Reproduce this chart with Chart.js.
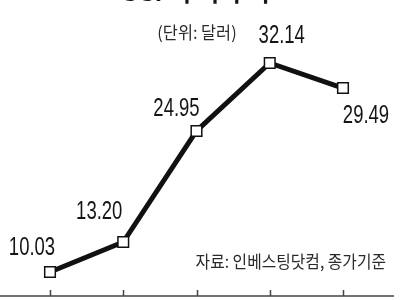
<!DOCTYPE html>
<html>
<head>
<meta charset="utf-8">
<script src="https://cdn.jsdelivr.net/npm/chart.js@4"></script>
<style>
  html, body { margin: 0; padding: 0; background: #fff; }
  #wrap { width: 400px; height: 300px; }
</style>
</head>
<body>
<div id="wrap"><canvas id="priceChart" width="400" height="300"></canvas></div>
<script>
// 데이터
const periods = ['1', '2', '3', '4', '5'];
const prices = [10.03, 13.20, 24.95, 32.14, 29.49];
const priceLabels = ['10.03', '13.20', '24.95', '32.14', '29.49'];

// 라벨 위치 (점 기준 오프셋)
const labelOffsets = [[-18, -24], [-24, -30], [-20, -22], [12, -27], [23, 28]];

const numFont = '25px "Liberation Sans", Arial, sans-serif';
const krFont = '17px "Noto Sans CJK KR", sans-serif';

// 가로로 눌린 글자 그리기
function drawNarrow(ctx, text, x, y, sx) {
    ctx.save();
    ctx.translate(x, y);
    ctx.scale(sx, 1);
    ctx.fillText(text, 0, 0);
    ctx.restore();
}

// 축선, 라벨, 제목을 그리는 플러그인
const decorPlugin = {
    id: 'decor',
    afterDatasetsDraw(chart) {
        const ctx = chart.ctx;
        const x = chart.scales.x;
        const meta = chart.getDatasetMeta(0);
        ctx.save();

        // 아래쪽 축선과 눈금
        ctx.strokeStyle = '#444';
        ctx.lineWidth = 1.5;
        ctx.beginPath();
        ctx.moveTo(0, 296);
        ctx.lineTo(394, 296);
        periods.forEach((p, i) => {
            const px = Math.round(x.getPixelForValue(i)) + 0.5;
            ctx.moveTo(px, 290);
            ctx.lineTo(px, 296);
        });
        ctx.stroke();

        // 값 라벨
        ctx.fillStyle = '#151515';
        ctx.font = numFont;
        ctx.textAlign = 'center';
        ctx.textBaseline = 'middle';
        meta.data.forEach((pt, i) => {
            drawNarrow(ctx, priceLabels[i], pt.x + labelOffsets[i][0], pt.y + labelOffsets[i][1], 0.74);
        });

        // 제목 (위쪽이 잘려 있음)
        ctx.font = 'bold 24px "Noto Sans CJK KR", sans-serif';
        ctx.textBaseline = 'alphabetic';
        ctx.fillText('GGP 주가 추이', 195, 1);

        // 단위, 출처
        ctx.font = krFont;
        ctx.fillStyle = '#2a2a2a';
        ctx.textBaseline = 'middle';
        drawNarrow(ctx, '(단위: 달러)', 197, 33, 0.96);
        ctx.textAlign = 'right';
        drawNarrow(ctx, '자료: 인베스팅닷컴, 종가기준', 386, 262, 0.93);
        ctx.restore();
    }
};

const ctx = document.getElementById('priceChart').getContext('2d');
new Chart(ctx, {
    type: 'line',
    data: {
        labels: periods,
        datasets: [{
            data: prices,
            borderColor: '#111',
            borderWidth: 5,
            tension: 0,
            pointStyle: 'rect',
            pointRadius: 7.5,
            pointBorderWidth: 1.5,
            pointBorderColor: '#111',
            pointBackgroundColor: '#fff',
            clip: false
        }]
    },
    options: {
        responsive: false,
        animation: false,
        layout: { padding: { left: 50, right: 57, top: 10, bottom: 10 } },
        plugins: {
            legend: { display: false },
            tooltip: { enabled: false }
        },
        scales: {
            x: { display: false },
            y: { display: false, min: 8.126, max: 37.747 }
        }
    },
    plugins: [decorPlugin]
});
</script>
</body>
</html>
